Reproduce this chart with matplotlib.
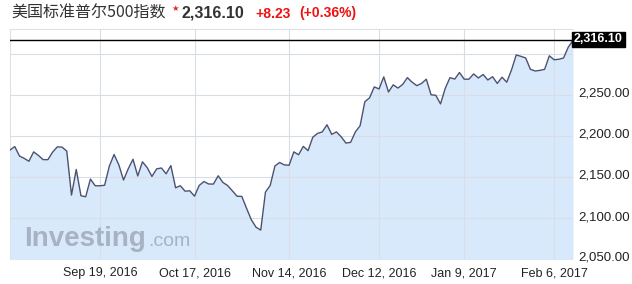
import matplotlib
matplotlib.use("Agg")
import matplotlib.pyplot as plt

# S&P 500 daily closes, trading days Aug 22, 2016 - Feb 10, 2017
closes = [
    2182.6, 2186.9, 2175.4, 2172.5, 2169.0, 2180.4, 2176.1, 2171.0, 2170.9, 2180.0,
    2186.5, 2186.2, 2181.3, 2127.8, 2159.0, 2127.0, 2125.8, 2147.3, 2139.2, 2139.1,
    2139.8, 2163.1, 2177.2, 2164.7, 2146.1, 2159.9, 2171.4, 2151.1, 2168.3, 2161.2,
    2150.5, 2159.7, 2160.8, 2153.7, 2163.7, 2136.7, 2139.2, 2132.6, 2133.0, 2126.5,
    2139.6, 2144.3, 2141.3, 2141.2, 2151.3, 2143.2, 2139.4, 2133.0, 2126.4, 2126.2,
    2111.7, 2097.9, 2088.7, 2085.2, 2131.5, 2139.6, 2163.3, 2167.5, 2164.5, 2164.2,
    2180.4, 2176.9, 2187.1, 2181.9, 2198.2, 2202.9, 2204.7, 2213.4, 2201.7, 2204.7,
    2198.8, 2191.1, 2192.0, 2204.7, 2212.2, 2241.4, 2246.2, 2259.5, 2257.0, 2271.7,
    2253.3, 2262.0, 2258.1, 2262.5, 2270.8, 2265.2, 2261.0, 2263.8, 2268.9, 2249.9,
    2249.3, 2238.8, 2257.8, 2270.8, 2269.0, 2277.0, 2268.9, 2268.9, 2275.3, 2270.4,
    2274.6, 2267.9, 2271.9, 2263.7, 2271.3, 2265.2, 2280.1, 2298.4, 2296.7, 2294.7,
    2280.9, 2278.9, 2279.6, 2280.9, 2297.4, 2292.6, 2293.1, 2294.7, 2307.9, 2316.1,
]
tick_idx = [19, 39, 59, 78, 96, 115]
tick_labels = ["Sep 19, 2016", "Oct 17, 2016", "Nov 14, 2016",
               "Dec 12, 2016", "Jan 9, 2017", "Feb 6, 2017"]
y_ticks = [2050, 2100, 2150, 2200, 2250, 2300]
last_price = 2316.10

W, H = 632, 284
fig = plt.figure(figsize=(W / 100, H / 100), dpi=100)
ax = fig.add_axes([10 / W, (H - 259) / H, 563 / W, 230 / H])

x = list(range(len(closes)))
ax.fill_between(x, closes, 2000, color="#d9e9fc", lw=0, zorder=1)
ax.plot(x, closes, color="#4b5270", lw=1.0, zorder=3)
ax.axhline(last_price, color="black", lw=1.0, zorder=4)

ax.set_xlim(0, len(closes) - 1)
ax.set_ylim(2050, 2330)
ax.set_xticks(tick_idx)
ax.set_yticks(y_ticks)
ax.set_xticklabels([])
ax.set_yticklabels([])
ax.tick_params(length=0)
ax.grid(True, color="#d8dde6", lw=0.8, zorder=2)
ax.set_axisbelow(False)
for s in ["right", "bottom"]:
    ax.spines[s].set_visible(False)
for s in ["top", "left"]:
    ax.spines[s].set_color("#dde1e8")
    ax.spines[s].set_linewidth(0.8)

def px(xp, yp):
    return xp / W, 1 - yp / H

latin = ["Liberation Sans", "DejaVu Sans"]

# y tick labels, right of the plot
for v in y_ticks[:-1]:
    yp = 259 - (v - 2050) * 0.82
    fig.text(*px(578, yp - 1), f"{v:,.2f}", fontsize=9.5, family=latin,
             color="#222222", va="center", ha="left")

# x tick labels
for i, lab in zip(tick_idx, tick_labels):
    xp = 10 + i * 563 / (len(closes) - 1)
    fig.text(*px(xp, 273), lab, fontsize=9, family=latin,
             color="#222222", va="center", ha="center")

# current price tag
fig.text(*px(574, 39.5), "2,316.10", fontsize=9, family=latin, fontweight="bold",
         color="white", va="center", ha="left",
         bbox=dict(boxstyle="square,pad=0.15", fc="black", ec="black"))

# header
fig.text(*px(11, 13), "美国标准普尔500指数", fontsize=11.5,
         family=["Noto Sans CJK SC", "DejaVu Sans"], color="#333333", va="center")
fig.text(*px(171, 8), "★", fontsize=6, color="#e8202a", va="center",
         family=["DejaVu Sans"])
fig.text(*px(181, 13), "2,316.10", fontsize=11.5, fontweight="bold", family=latin,
         color="#333333", va="center")
fig.text(*px(255, 13.5), "+8.23", fontsize=10, fontweight="bold", family=latin,
         color="#ee1111", va="center")
fig.text(*px(299, 13.5), "(+0.36%)", fontsize=10, fontweight="bold", family=latin,
         color="#ee1111", va="center")

# watermark
fig.text(*px(24, 246), "Investing", fontsize=20, fontweight="bold", family=latin,
         color="#a7b2c4", va="baseline", ha="left")
fig.text(*px(148, 246), ".com", fontsize=14, family=latin,
         color="#a7b2c4", va="baseline", ha="left")

fig.savefig("out.png", dpi=100)
